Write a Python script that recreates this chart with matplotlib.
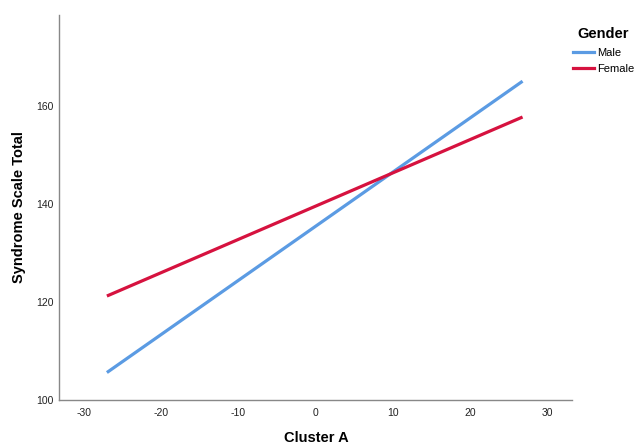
import matplotlib
matplotlib.use("Agg")
import matplotlib.pyplot as plt
from matplotlib.lines import Line2D

plt.rcParams['font.family'] = ['Liberation Sans', 'DejaVu Sans']
plt.rcParams['axes.unicode_minus'] = False

# Fitted lines per gender (endpoints of the regression fit)
cluster_a = [-27.0, 26.8]
male_total = [105.6, 165.0]
female_total = [121.2, 157.7]
series_names = ["Male", "Female"]
series_colors = ["#5B9BE3", "#D6123F"]

x_ticks = [-30, -20, -10, 0, 10, 20, 30]
y_ticks = [100, 120, 140, 160]

fig = plt.figure(figsize=(6.39, 4.47), dpi=100)
ax = fig.add_axes([59 / 639, 1 - 400 / 447, (572 - 59) / 639, (400 - 15) / 447])

ax.plot(cluster_a, male_total, color=series_colors[0], lw=2.3, solid_capstyle='butt')
ax.plot(cluster_a, female_total, color=series_colors[1], lw=2.3, solid_capstyle='butt')

ax.set_xlim(-33.2, 33.2)
ax.set_ylim(100, 178.5)
ax.set_xticks(x_ticks)
ax.set_yticks(y_ticks)
ax.tick_params(axis='x', length=0, labelsize=7.5, colors='#222222', pad=6)
ax.tick_params(axis='y', length=0, labelsize=7.5, colors='#222222', pad=4)

for s in ['top', 'right']:
    ax.spines[s].set_visible(False)
for s in ['left', 'bottom']:
    ax.spines[s].set_color('#888888')
    ax.spines[s].set_linewidth(1.0)

ax.set_xlabel("Cluster A", fontsize=10.5, fontweight='bold', va='center')
ax.set_ylabel("Syndrome Scale Total", fontsize=10.5, fontweight='bold', va='center')
ax.xaxis.set_label_coords(0.5 + (316 - 315.5) / 513, (400 - 438) / 385)
ax.yaxis.set_label_coords((19 - 59) / 513, 0.5)

handles = [Line2D([0], [0], color=c, lw=2.3) for c in series_colors]
leg = fig.legend(handles, series_names, title="Gender", loc='upper left',
                 bbox_to_anchor=(573 / 639, 1 - 27 / 447), frameon=False,
                 fontsize=8, title_fontproperties={'weight': 'bold', 'size': 10.5},
                 handlelength=1.9, handletextpad=0.25, labelspacing=0.6,
                 borderaxespad=0, borderpad=0)

fig.savefig("out.png", dpi=100, facecolor='white')
